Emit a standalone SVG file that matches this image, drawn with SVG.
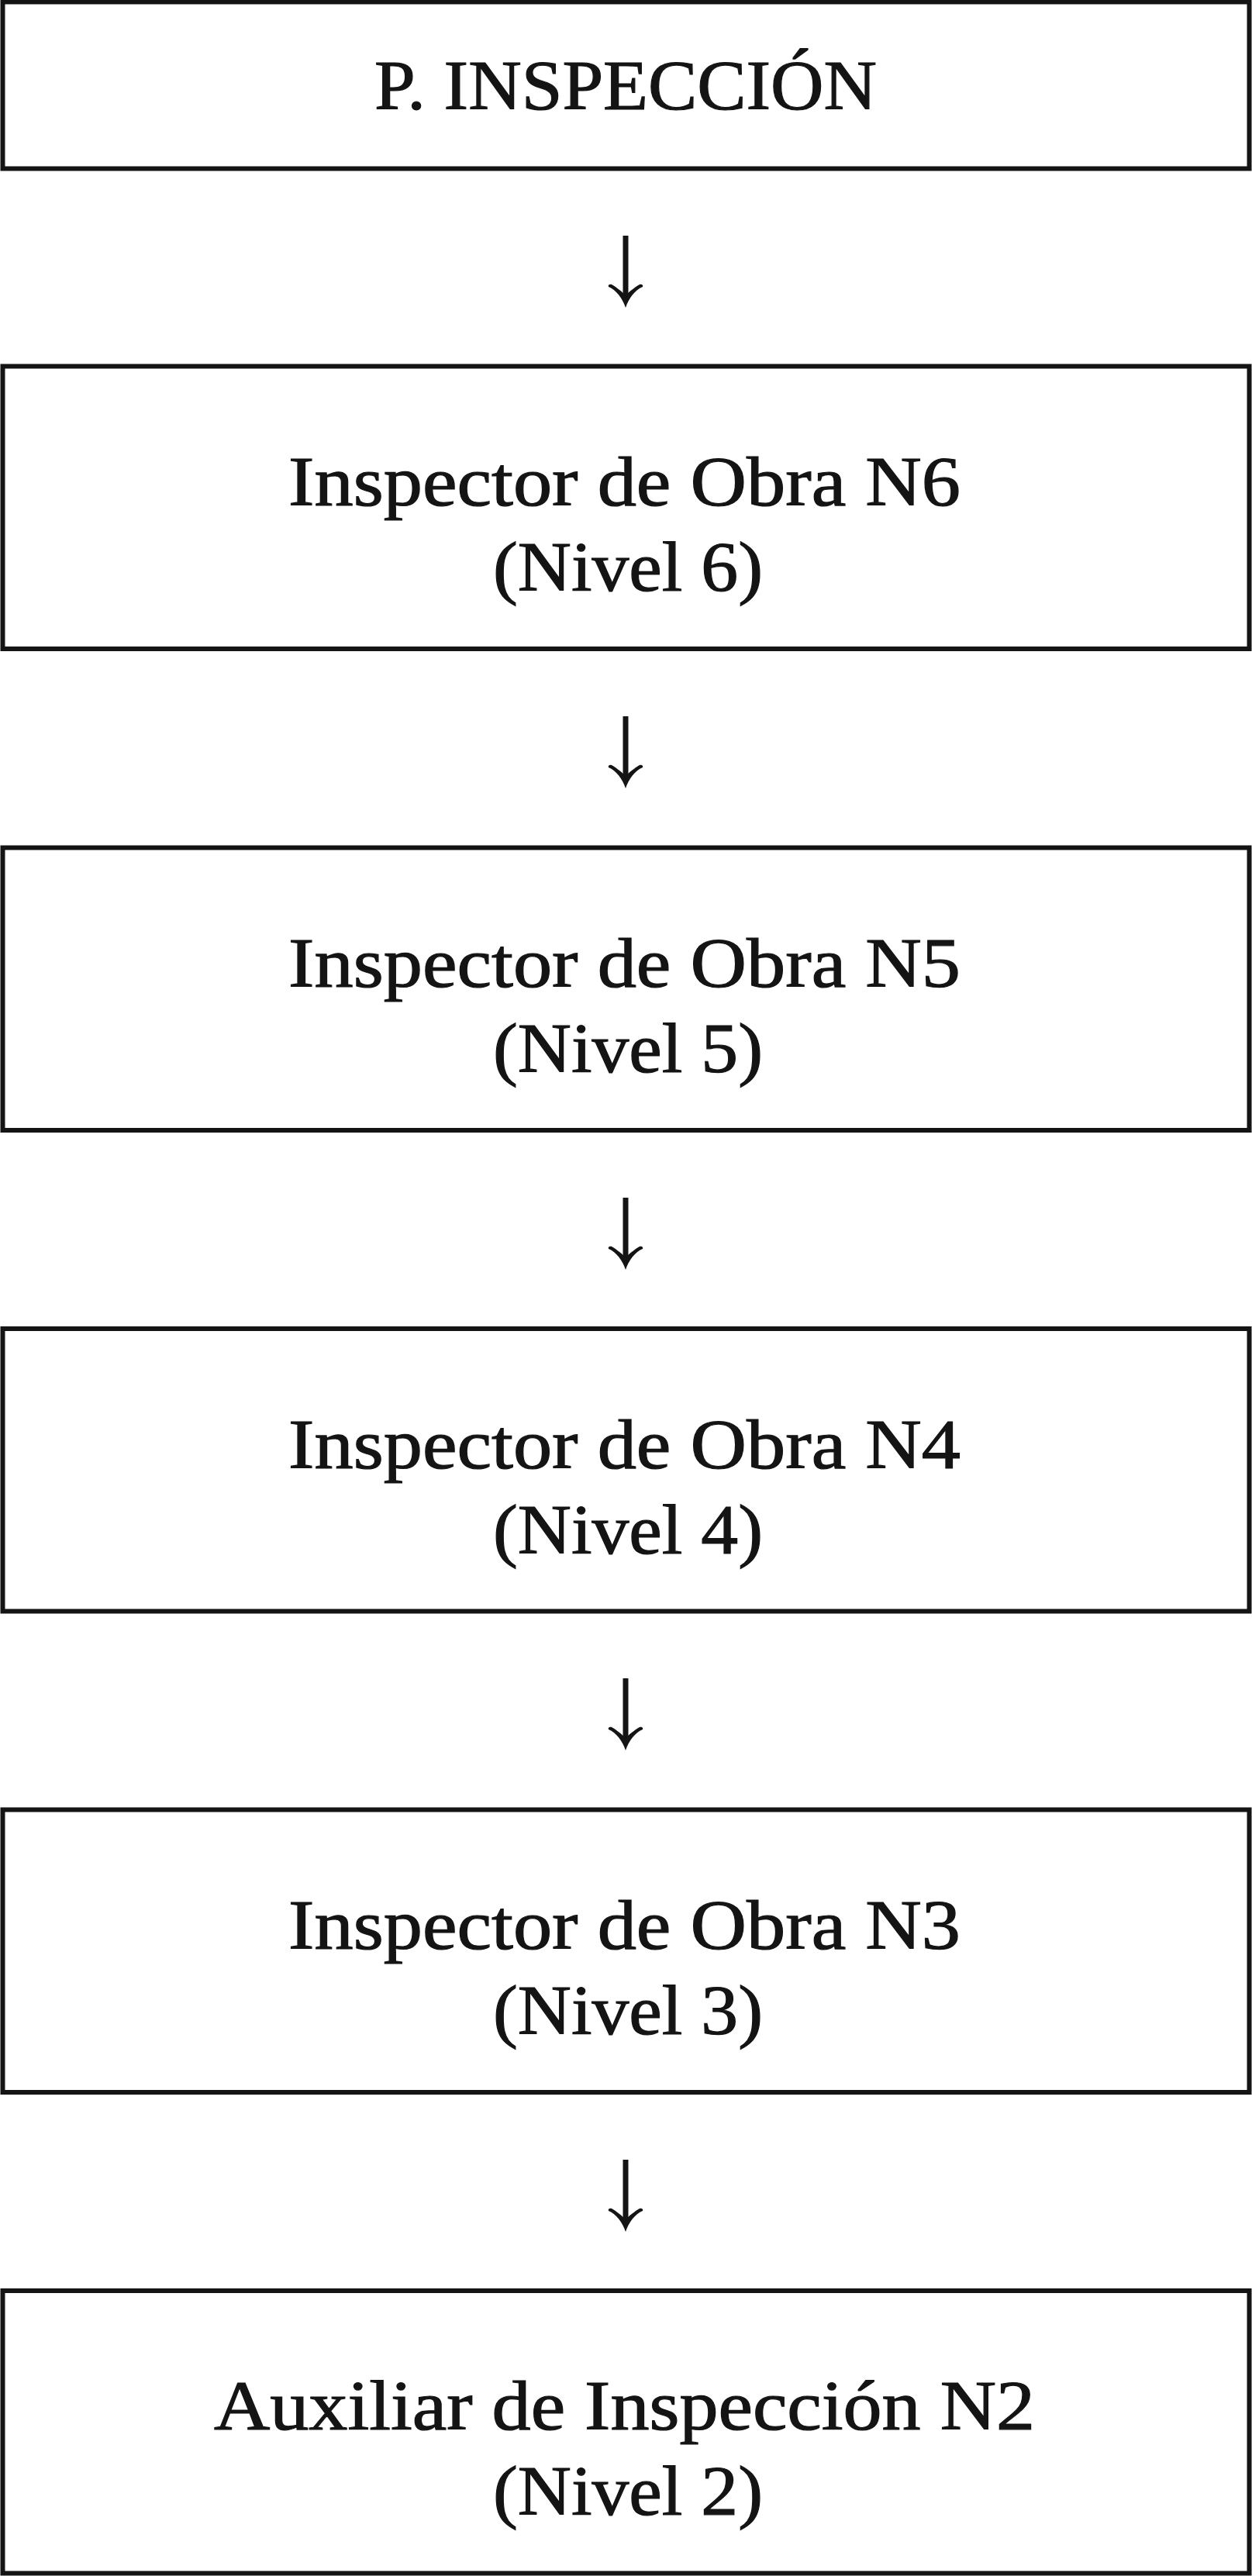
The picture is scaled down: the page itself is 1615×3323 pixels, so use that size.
<svg xmlns="http://www.w3.org/2000/svg" width="1615" height="3323" viewBox="0 0 1615 3323">
<defs>
<style>
.box{fill:#ffffff;stroke:#141414;stroke-width:6}
.t{font-family:"Liberation Serif","Times New Roman",serif;font-size:90px;fill:#141414;stroke:#141414;stroke-width:1.2;text-anchor:middle}
.stem{stroke:#141414;stroke-width:7;fill:none}
.head{fill:#141414}
</style>
<g id="arrow">
<line class="stem" x1="807" y1="0" x2="807" y2="82"/>
<path class="head" d="M807,93 C803,81 795,70 785,66 C784,64 786,62 789,63 C796,67 803,73 807,77 C811,73 818,67 825,63 C828,62 830,64 829,66 C819,70 811,81 807,93 Z"/>
</g>
</defs>
<rect width="1615" height="3323" fill="#ffffff"/>
<g id="connectors">
<use href="#arrow" y="304"/>
<use href="#arrow" y="924"/>
<use href="#arrow" y="1545"/>
<use href="#arrow" y="2165"/>
<use href="#arrow" y="2786"/>
</g>
<g id="n1">
<rect class="box" x="3.5" y="2.5" width="1608" height="215"/>
<text class="t" x="807" y="141" textLength="648" lengthAdjust="spacingAndGlyphs">P. INSPECCIÓN</text>
</g>
<g id="n2">
<rect class="box" x="3.5" y="472.5" width="1608" height="364.5"/>
<text class="t" x="805.5" y="652" textLength="867" lengthAdjust="spacingAndGlyphs">Inspector de Obra N6</text>
<text class="t" x="810" y="762" textLength="348" lengthAdjust="spacingAndGlyphs">(Nivel 6)</text>
</g>
<g id="n3">
<rect class="box" x="3.5" y="1093.5" width="1608" height="364.5"/>
<text class="t" x="805.5" y="1273" textLength="867" lengthAdjust="spacingAndGlyphs">Inspector de Obra N5</text>
<text class="t" x="810" y="1383" textLength="348" lengthAdjust="spacingAndGlyphs">(Nivel 5)</text>
</g>
<g id="n4">
<rect class="box" x="3.5" y="1714" width="1608" height="364.5"/>
<text class="t" x="805.5" y="1893.5" textLength="867" lengthAdjust="spacingAndGlyphs">Inspector de Obra N4</text>
<text class="t" x="810" y="2003.5" textLength="348" lengthAdjust="spacingAndGlyphs">(Nivel 4)</text>
</g>
<g id="n5">
<rect class="box" x="3.5" y="2334.5" width="1608" height="364.5"/>
<text class="t" x="805.5" y="2514" textLength="867" lengthAdjust="spacingAndGlyphs">Inspector de Obra N3</text>
<text class="t" x="810" y="2624" textLength="348" lengthAdjust="spacingAndGlyphs">(Nivel 3)</text>
</g>
<g id="n6">
<rect class="box" x="3.5" y="2955" width="1608" height="364.5"/>
<text class="t" x="805.5" y="3134" textLength="1059" lengthAdjust="spacingAndGlyphs">Auxiliar de Inspección N2</text>
<text class="t" x="810" y="3244" textLength="348" lengthAdjust="spacingAndGlyphs">(Nivel 2)</text>
</g>
</svg>
